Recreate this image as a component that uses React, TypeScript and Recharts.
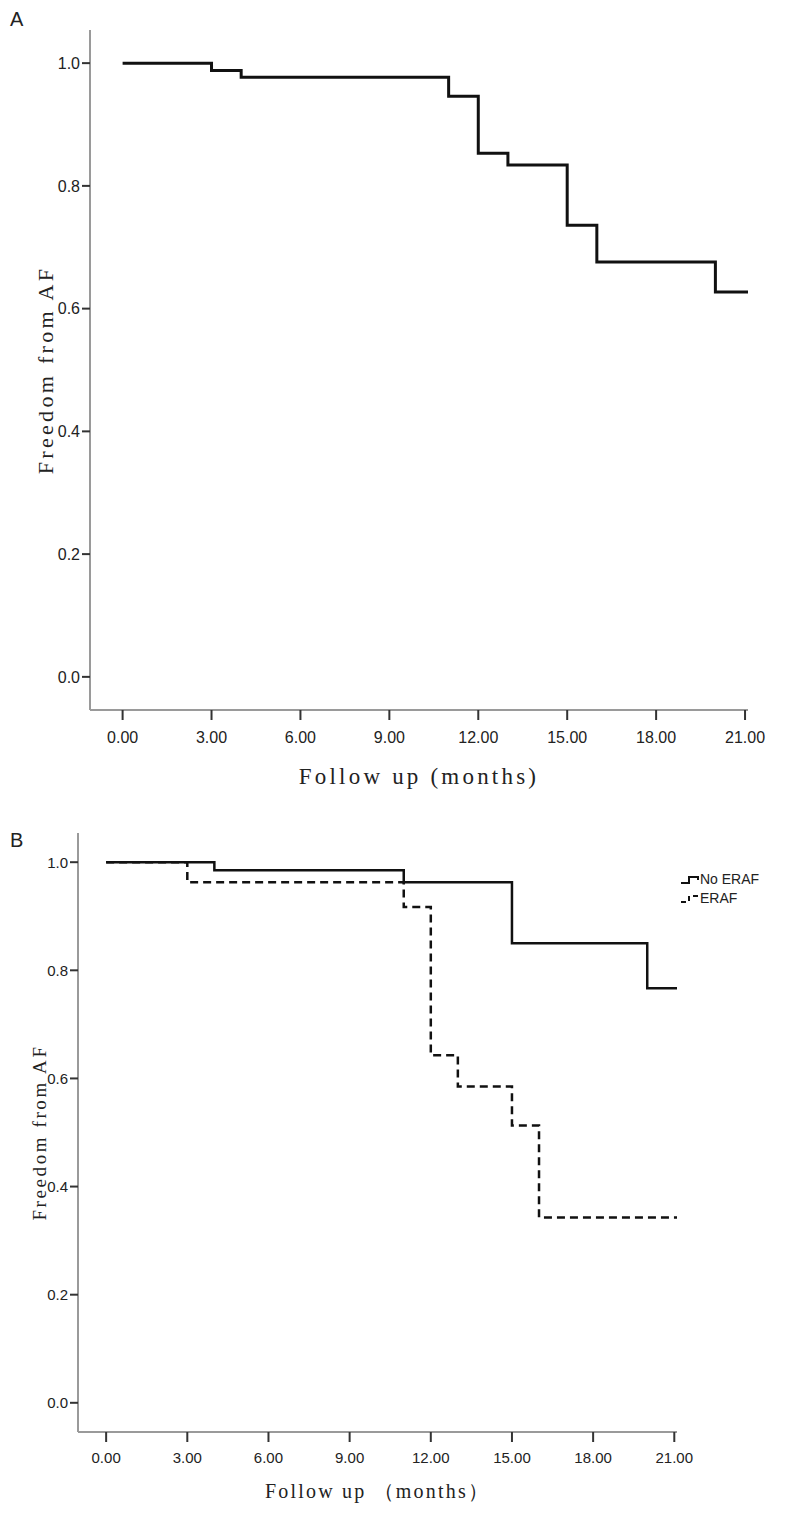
import { LineChart, Line, XAxis, YAxis, Legend } from 'recharts'

// Panel A: overall Kaplan-Meier curve
const monthsA = [0, 3, 4, 11, 12, 13, 15, 16, 20, 21.15]
const survivalA = [1.0, 0.988, 0.977, 0.946, 0.853, 0.834, 0.736, 0.676, 0.627, 0.627]

// Panel B: stratified by ERAF
const monthsNoEraf = [0, 4, 11, 15, 20, 21.1]
const survivalNoEraf = [1.0, 0.985, 0.963, 0.85, 0.767, 0.767]
const monthsEraf = [0, 3, 11, 12, 13, 15, 16, 21.1]
const survivalEraf = [1.0, 0.963, 0.917, 0.643, 0.585, 0.513, 0.343, 0.343]

const xTicks = [0, 3, 6, 9, 12, 15, 18, 21]
const yTicks = [0, 0.2, 0.4, 0.6, 0.8, 1.0]
const seriesNames = ['No ERAF', 'ERAF']

const toRows = (t: number[], s: number[]) => t.map((m, i) => ({ t: m, s: s[i] }))

const dataA = toRows(monthsA, survivalA)
const dataNoEraf = toRows(monthsNoEraf, survivalNoEraf)
const dataEraf = toRows(monthsEraf, survivalEraf)

const AXIS = '#9a9a9a'
const TICK = '#333'
const titleFont = '"Liberation Serif", "DejaVu Serif", serif'
const tickFont = '"Liberation Sans", Arial, sans-serif'

function YLabel({ viewBox, x, text, size, spacing }: any) {
  const cy = viewBox.y + viewBox.height / 2
  return (
    <text
      x={x}
      y={cy}
      transform={`rotate(-90 ${x} ${cy})`}
      textAnchor="middle"
      dominantBaseline="central"
      fontFamily={titleFont}
      fontSize={size}
      letterSpacing={spacing}
      fill="#222"
    >
      {text}
    </text>
  )
}

function StepIcon({ dashed }: { dashed: boolean }) {
  return (
    <svg width={20} height={12} style={{ display: 'block' }}>
      <path
        d="M1 9 H9 V3 H18 V6"
        fill="none"
        stroke="#111"
        strokeWidth={2}
        strokeDasharray={dashed ? '5 4' : undefined}
      />
    </svg>
  )
}

function KmLegend() {
  return (
    <div style={{ fontFamily: tickFont, fontSize: 14, color: '#222', lineHeight: '19px' }}>
      {seriesNames.map((n, i) => (
        <div key={n} style={{ display: 'flex', alignItems: 'center' }}>
          <StepIcon dashed={i === 1} />
          <span>{n}</span>
        </div>
      ))}
    </div>
  )
}

export default function App() {
  return (
    <div style={{ position: 'absolute', left: 0, top: 0, width: 787, height: 1516, background: '#fff' }}>
      <div style={{ position: 'absolute', left: 10, top: 8, fontFamily: tickFont, fontSize: 20, color: '#222' }}>A</div>
      <div style={{ position: 'absolute', left: 10, top: 829, fontFamily: tickFont, fontSize: 20, color: '#222' }}>B</div>

      <div style={{ position: 'absolute', left: 0, top: 0 }}>
        <LineChart width={787} height={790} margin={{ top: 30, right: 39, left: 0, bottom: 0 }}>
          <XAxis
            type="number"
            dataKey="t"
            domain={[-1.1, 21.1]}
            ticks={xTicks}
            allowDataOverflow
            tickFormatter={(v: number) => v.toFixed(2)}
            height={80}
            stroke={AXIS}
            strokeWidth={2}
            tickLine={{ stroke: TICK, strokeWidth: 2 }}
            tickSize={10}
            tickMargin={12}
            tick={{ fill: '#222', fontSize: 16, fontFamily: tickFont }}
            label={{ value: 'Follow up (months)', position: 'insideBottom', offset: 6, fontFamily: titleFont, fontSize: 23, letterSpacing: 3.2, fill: '#222' }}
          />
          <YAxis
            type="number"
            domain={[-0.054, 1.054]}
            ticks={yTicks}
            tickFormatter={(v: number) => v.toFixed(1)}
            width={90}
            stroke={AXIS}
            strokeWidth={2}
            tickLine={{ stroke: TICK, strokeWidth: 2 }}
            tickSize={8}
            tickMargin={2}
            tick={{ fill: '#222', fontSize: 16, fontFamily: tickFont }}
            label={<YLabel x={28} text="Freedom from AF" size={22} spacing={3.3} />}
          />
          <Line
            data={dataA}
            dataKey="s"
            type="stepAfter"
            stroke="#111"
            strokeWidth={3}
            dot={false}
            isAnimationActive={false}
          />
        </LineChart>
      </div>

      <div style={{ position: 'absolute', left: 0, top: 820 }}>
        <LineChart width={787} height={696} margin={{ top: 13, right: 110, left: 0, bottom: 0 }}>
          <XAxis
            type="number"
            dataKey="t"
            domain={[-1.04, 21.1]}
            ticks={xTicks}
            allowDataOverflow
            tickFormatter={(v: number) => v.toFixed(2)}
            height={84}
            stroke={AXIS}
            strokeWidth={2}
            tickLine={{ stroke: TICK, strokeWidth: 2 }}
            tickSize={10}
            tickMargin={10}
            tick={{ fill: '#222', fontSize: 15, fontFamily: tickFont }}
            label={{ value: 'Follow up （months）', position: 'insideBottom', offset: 18, fontFamily: titleFont, fontSize: 20, letterSpacing: 2.2, fill: '#222' }}
          />
          <YAxis
            type="number"
            domain={[-0.054, 1.054]}
            ticks={yTicks}
            tickFormatter={(v: number) => v.toFixed(1)}
            width={78}
            stroke={AXIS}
            strokeWidth={2}
            tickLine={{ stroke: TICK, strokeWidth: 2 }}
            tickSize={8}
            tickMargin={2}
            tick={{ fill: '#222', fontSize: 15, fontFamily: tickFont }}
            label={<YLabel x={20} text="Freedom from AF" size={19} spacing={2.6} />}
          />
          <Legend
            layout="horizontal"
            verticalAlign="middle"
            align="center"
            width={110}
            wrapperStyle={{ left: 680, top: 50 }}
            content={<KmLegend />}
          />
          <Line
            data={dataNoEraf}
            dataKey="s"
            name={seriesNames[0]}
            type="stepAfter"
            stroke="#111"
            strokeWidth={2.5}
            dot={false}
            isAnimationActive={false}
          />
          <Line
            data={dataEraf}
            dataKey="s"
            name={seriesNames[1]}
            type="stepAfter"
            stroke="#111"
            strokeWidth={2.5}
            strokeDasharray="8 5"
            dot={false}
            isAnimationActive={false}
          />
        </LineChart>
      </div>
    </div>
  )
}
